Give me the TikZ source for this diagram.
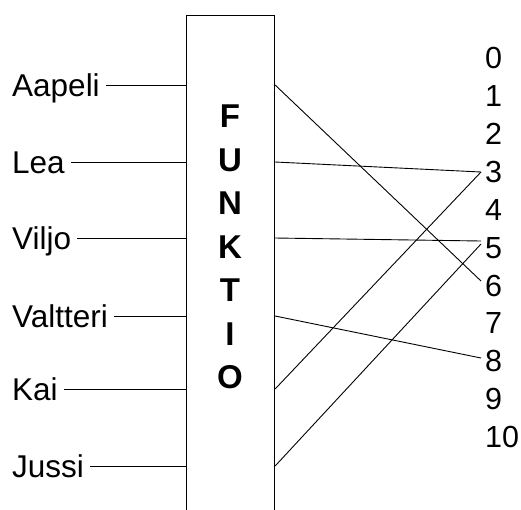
\documentclass[tikz,border=0pt]{standalone}
\usepackage{fontspec}
\setmainfont{Liberation Sans}
\begin{document}
\begin{tikzpicture}[x=1pt,y=-1pt,
  namelbl/.style={anchor=west,inner xsep=6pt,inner ysep=0pt,text height=22.5pt,text depth=0pt,font=\fontsize{31.5}{36}\selectfont},
  numlbl/.style={anchor=west,inner xsep=4pt,inner ysep=0pt,text height=21.5pt,text depth=0pt,font=\fontsize{30.5}{35}\selectfont},
  wire/.style={line width=0.9pt},
  funcbox/.style={draw,line width=1.1pt,minimum width=88pt,minimum height=498pt,inner sep=0pt,anchor=north west}
]
\useasboundingbox (0,0) rectangle (521,509);
\node[funcbox] (box) at (186,15) {};
\node[inner sep=0pt,align=center,font=\bfseries\fontsize{33}{43.5}\selectfont] (title) at (230,247) {F\\U\\N\\K\\T\\I\\O};
% names
\node[namelbl] (aapeli) at (6,85) {Aapeli};
\node[namelbl] (lea) at (6,162) {Lea};
\node[namelbl] (viljo) at (6,238) {Viljo};
\node[namelbl] (valtteri) at (6,316) {Valtteri};
\node[namelbl] (kai) at (6,389) {Kai};
\node[namelbl] (jussi) at (6,466) {Jussi};
% numbers
\foreach \i/\y in {0/57.5,1/95.5,2/133.5,3/172,4/210,5/248,6/286,7/323,8/361,9/399,10/437}
  \node[numlbl] (n\i) at (481,\y) {\i};
% left wires
\foreach \n in {aapeli,lea,viljo,valtteri,kai,jussi}
  \draw[wire] (\n.east) -- (\n.east -| box.west);
% right wires
\draw[wire] (aapeli.east -| box.east) -- ([yshift=5pt]n6.west);
\draw[wire] (lea.east -| box.east) -- (n3.west);
\draw[wire] (viljo.east -| box.east) -- ([yshift=7pt]n5.west);
\draw[wire] (valtteri.east -| box.east) -- ([yshift=3pt]n8.west);
\draw[wire] (kai.east -| box.east) -- (n3.west);
\draw[wire] (jussi.east -| box.east) -- ([yshift=4pt]n5.west);
\end{tikzpicture}
\end{document}
